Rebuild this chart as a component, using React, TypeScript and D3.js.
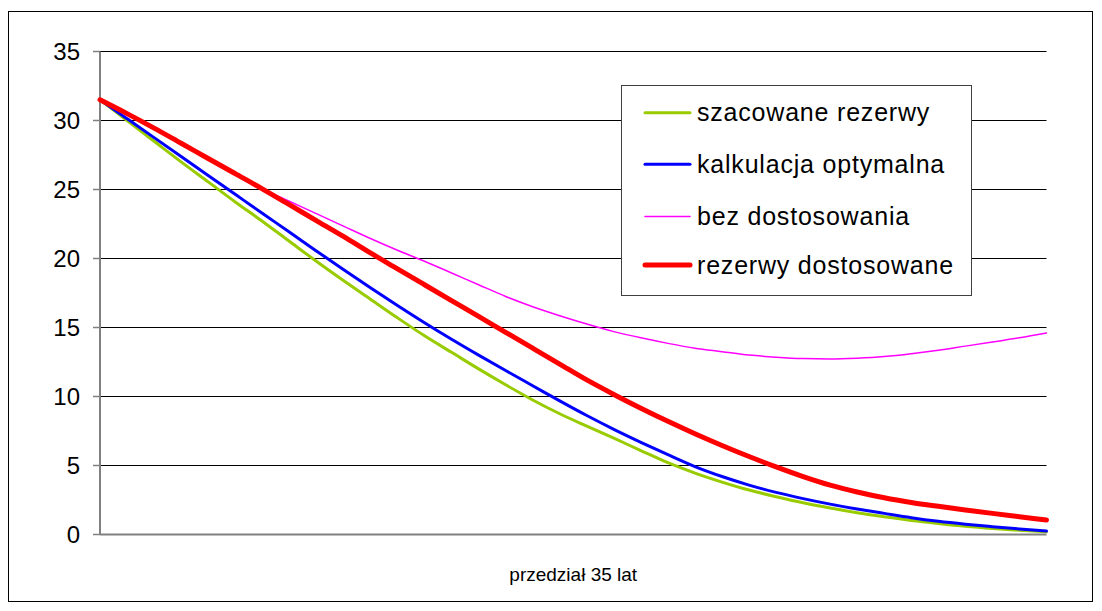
import React from "react";
import * as d3 from "d3";

// Years of the 35-year horizon (0..35)
const years: number[] = d3.range(0, 36);

// Reserve levels per year
const szacowane: number[] = [
  31.5, 30.0, 28.5, 27.0, 25.55, 24.1, 22.7, 21.25, 19.8, 18.4,
  17.05, 15.7, 14.4, 13.2, 12.0, 10.85, 9.75, 8.75, 7.85, 6.98,
  6.08, 5.2, 4.45, 3.8, 3.22, 2.74, 2.3, 1.92, 1.58, 1.28,
  1.02, 0.8, 0.6, 0.44, 0.31, 0.2,
];
const kalkulacja: number[] = [
  31.5, 30.13, 28.76, 27.39, 26.02, 24.65, 23.28, 21.92, 20.55, 19.2,
  17.88, 16.6, 15.35, 14.15, 13.0, 11.88, 10.78, 9.68, 8.62, 7.62,
  6.68, 5.78, 4.92, 4.2, 3.58, 3.05, 2.6, 2.2, 1.85, 1.53,
  1.22, 0.96, 0.75, 0.57, 0.4, 0.25,
];
const bezDostosowania: number[] = [
  31.5, 30.5, 29.45, 28.35, 27.25, 26.15, 25.05, 24.15, 23.25, 22.35,
  21.45, 20.6, 19.8, 18.95, 18.1, 17.25, 16.5, 15.85, 15.25, 14.7,
  14.25, 13.85, 13.5, 13.25, 13.0, 12.85, 12.75, 12.72, 12.78, 12.9,
  13.1, 13.35, 13.65, 13.95, 14.25, 14.6,
];
const dostosowane: number[] = [
  31.5, 30.5, 29.45, 28.35, 27.25, 26.15, 25.05, 23.9, 22.75, 21.6,
  20.4, 19.25, 18.1, 16.95, 15.8, 14.65, 13.5, 12.35, 11.2, 10.15,
  9.15, 8.2, 7.3, 6.45, 5.65, 4.9, 4.2, 3.58, 3.08, 2.66,
  2.32, 2.04, 1.78, 1.53, 1.29, 1.05,
];

const yTicks: number[] = [0, 5, 10, 15, 20, 25, 30, 35];
const seriesNames: string[] = [
  "szacowane rezerwy",
  "kalkulacja optymalna",
  "bez dostosowania",
  "rezerwy dostosowane",
];
const seriesValues: number[][] = [szacowane, kalkulacja, bezDostosowania, dostosowane];
const seriesColors: string[] = ["#99CC00", "#0000FF", "#FF00FF", "#FF0000"];
const seriesWidths: number[] = [3, 3, 1.5, 5];
const xTitle = "przedział 35 lat";

const FONT = "'Liberation Sans', Arial, sans-serif";

export default function App() {
  const width = 1102;
  const height = 611;
  const x = d3.scaleLinear().domain([0, 35]).range([100, 1046.5]);
  const y = d3.scaleLinear().domain([0, 35]).range([534.5, 51.5]);

  const line = d3
    .line<number>()
    .x((_, i) => x(years[i]))
    .y((d) => y(d))
    .curve(d3.curveMonotoneX);

  // pink first so the red line sits on top where they coincide
  const drawOrder = [2, 0, 1, 3];

  const legendX = 621.5;
  const legendY = 85.5;
  const legendRows = [112.7, 164.3, 216.5, 265];

  return (
    <svg
      width={width}
      height={height}
      style={{ position: "absolute", left: 0, top: 0, background: "#fff" }}
    >
      <rect x={0} y={0} width={width} height={height} fill="#fff" />
      <rect x={8.5} y={11.5} width={1084} height={590} fill="none" stroke="#000" strokeWidth={1} />

      {/* gridlines */}
      {yTicks.map((t) =>
        t === 0 ? null : (
          <line key={"g" + t} x1={x(0)} x2={x(35)} y1={y(t)} y2={y(t)} stroke="#000" strokeWidth={1} />
        )
      )}
      {/* tick marks */}
      {yTicks.map((t) => (
        <line key={"t" + t} x1={93} x2={x(0)} y1={y(t)} y2={y(t)} stroke="#808080" strokeWidth={1.5} />
      ))}
      {/* axes */}
      <line x1={x(0)} x2={x(0)} y1={y(35)} y2={y(0)} stroke="#808080" strokeWidth={2} />
      <line x1={x(0)} x2={x(35)} y1={y(0)} y2={y(0)} stroke="#808080" strokeWidth={2} />

      {/* tick labels */}
      {yTicks.map((t) => (
        <text
          key={"l" + t}
          x={80}
          y={y(t)}
          dy="0.35em"
          textAnchor="end"
          fontFamily={FONT}
          fontSize={24}
          fill="#000"
        >
          {t}
        </text>
      ))}

      {/* series */}
      {drawOrder.map((k) => (
        <path
          key={"s" + k}
          d={line(seriesValues[k]) || ""}
          fill="none"
          stroke={seriesColors[k]}
          strokeWidth={seriesWidths[k]}
          strokeLinejoin="round"
          strokeLinecap="round"
        />
      ))}

      {/* x-axis title */}
      <text
        x={(x(0) + x(35)) / 2}
        y={581}
        textAnchor="middle"
        fontFamily={FONT}
        fontSize={19}
        fill="#000"
      >
        {xTitle}
      </text>

      {/* legend */}
      <rect x={legendX} y={legendY} width={350} height={210} fill="#fff" stroke="#404040" strokeWidth={1} />
      {seriesNames.map((name, i) => (
        <g key={"lg" + i}>
          <line
            x1={645}
            x2={690}
            y1={legendRows[i]}
            y2={legendRows[i]}
            stroke={seriesColors[i]}
            strokeWidth={seriesWidths[i]}
            strokeLinecap="round"
          />
          <text
            x={697}
            y={legendRows[i]}
            dy="0.35em"
            fontFamily={FONT}
            fontSize={25}
            letterSpacing={0.8}
            fill="#000"
          >
            {name}
          </text>
        </g>
      ))}
    </svg>
  );
}
